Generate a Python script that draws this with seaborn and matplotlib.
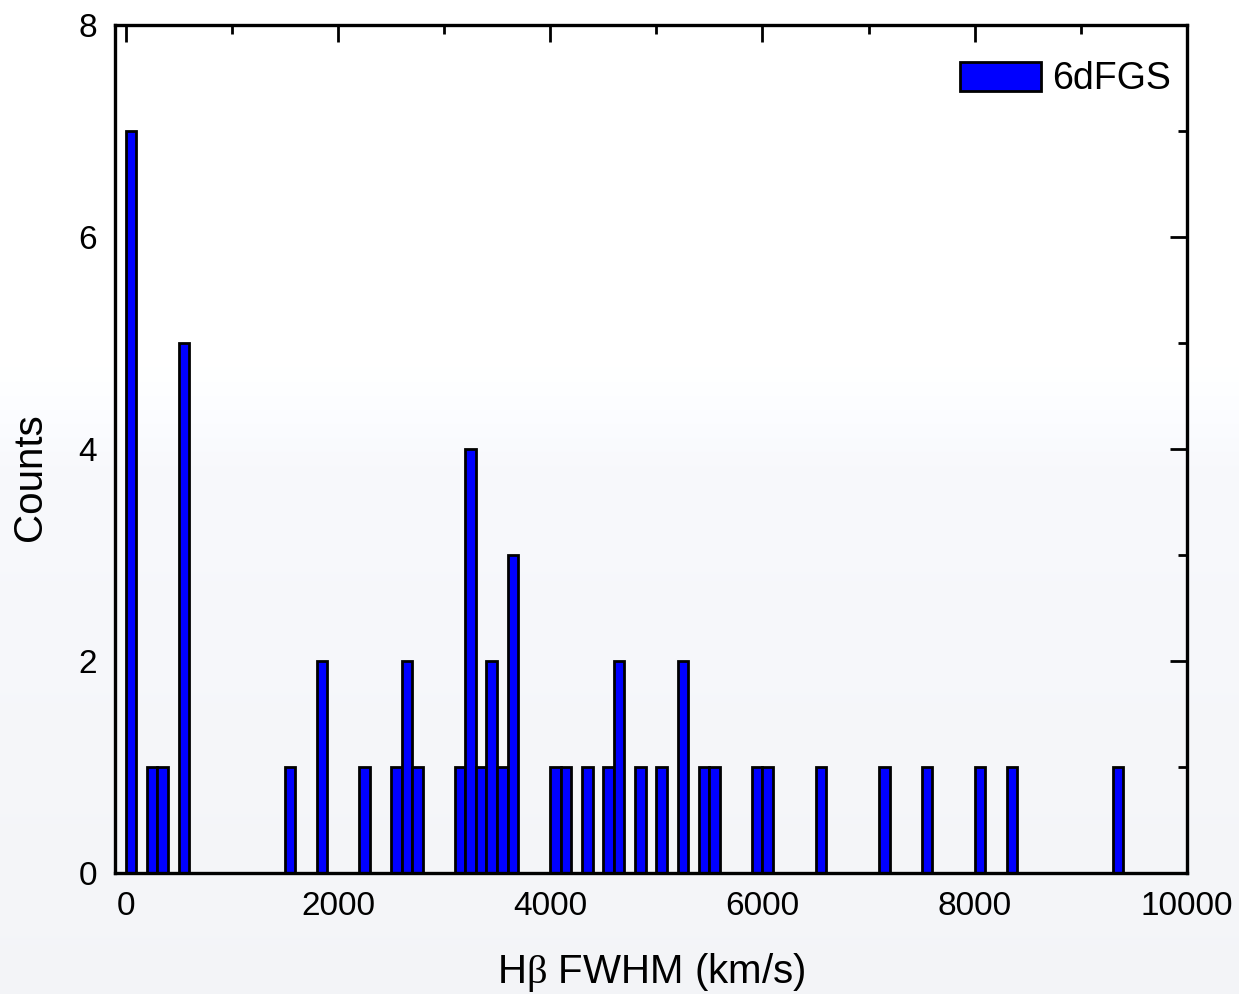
import numpy as np
import pandas as pd
import matplotlib
matplotlib.use("Agg")
import matplotlib.pyplot as plt
from matplotlib.patches import Patch
from matplotlib.ticker import MultipleLocator
import seaborn as sns

# Hbeta FWHM histogram, 100 km/s bins: left bin edge (km/s) and number of objects
bin_starts = [0, 200, 300, 500, 1500, 1800, 2200, 2500, 2600, 2700,
              3100, 3200, 3300, 3400, 3500, 3600, 4000, 4100, 4300, 4500,
              4600, 4800, 5000, 5200, 5400, 5500, 5900, 6000, 6500, 7100,
              7500, 8000, 8300, 9300]
counts = [7, 1, 1, 5, 1, 2, 1, 1, 2, 1,
          1, 4, 1, 2, 1, 3, 1, 1, 1, 1,
          2, 1, 1, 2, 1, 1, 1, 1, 1, 1,
          1, 1, 1, 1]
bin_width = 100
series_label = "6dFGS"
x_ticks = [0, 2000, 4000, 6000, 8000, 10000]
y_ticks = [0, 2, 4, 6, 8]

sns.set_style("white")
plt.rcParams["font.family"] = ["Liberation Sans", "DejaVu Sans"]
plt.rcParams["text.color"] = "black"
plt.rcParams["axes.labelcolor"] = "black"
plt.rcParams["mathtext.fontset"] = "custom"
plt.rcParams["mathtext.rm"] = "Liberation Serif"
plt.rcParams["mathtext.it"] = "Liberation Serif:italic"

W, H = 1239, 994
fig = plt.figure(figsize=(W / 100, H / 100), dpi=100)

# soft light-grey backdrop, white at the top fading to pale grey below
bg = fig.add_axes([0, 0, 1, 1], zorder=-10)
rows = np.linspace(0, 1, 600)
shade = np.interp(rows, [0.0, 0.37, 0.47, 1.0], [1.0, 1.0, 0.972, 0.955])
img = np.ones((600, 2, 3))
img[:, :, 0] = shade[:, None]
img[:, :, 1] = np.minimum(shade + 0.004, 1.0)[:, None]
img[:, :, 2] = np.minimum(shade + 0.016, 1.0)[:, None]
bg.imshow(img, aspect="auto", extent=[0, 1, 0, 1], origin="upper")
bg.set_axis_off()

ax = fig.add_axes([115 / W, 121 / H, 1072 / W, 848 / H])
ax.patch.set_alpha(0)

hist_df = pd.DataFrame({"fwhm": np.array(bin_starts) + bin_width / 2,
                        "n": counts})
sns.histplot(data=hist_df, x="fwhm", weights="n", binwidth=bin_width,
             binrange=(0, 10000), ax=ax, color="#0000ff",
             edgecolor="black", linewidth=2.0, alpha=1.0)

ax.set_xlim(-100, 10000)
ax.set_ylim(0, 8)
ax.set_xticks(x_ticks)
ax.set_yticks(y_ticks)
ax.xaxis.set_minor_locator(MultipleLocator(1000))
ax.yaxis.set_minor_locator(MultipleLocator(1))
ax.tick_params(which="both", direction="in", top=True, right=True,
               color="black", width=2.0, labelsize=24, labelcolor="black")
ax.tick_params(which="major", length=12, pad=13)
ax.tick_params(which="minor", length=6.5)
for sp in ax.spines.values():
    sp.set_visible(True)
    sp.set_color("black")
    sp.set_linewidth(2.4)

ax.set_xlabel(r"H$\mathrm{\beta}$ FWHM (km/s)", fontsize=29, color="black")
ax.set_ylabel("Counts", fontsize=29, color="black")
ax.xaxis.set_label_coords(0.5, -0.092)
ax.yaxis.set_label_coords(-0.062, 0.467)

handle = Patch(facecolor="#0000ff", edgecolor="black", linewidth=2.0)
ax.legend([handle], [series_label], loc="upper right", frameon=False,
          fontsize=27, handlelength=2.15, handleheight=0.8, handletextpad=0.3,
          borderpad=0, borderaxespad=0, bbox_to_anchor=(0.985, 0.957),
          labelcolor="black")

fig.savefig("out.png", dpi=100)
